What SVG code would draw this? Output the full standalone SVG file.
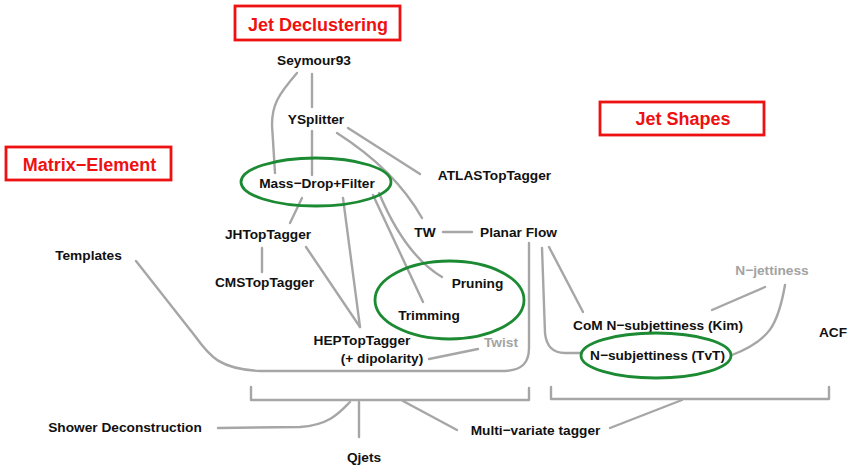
<svg xmlns="http://www.w3.org/2000/svg" width="849" height="465" viewBox="0 0 849 465">
<style>
text{font-family:"Liberation Sans",Arial,sans-serif;font-weight:bold;font-size:13.7px;fill:#111;text-anchor:middle}
.title{font-size:18px;fill:#ee1111}
.gray{fill:#a3a3a3}
.box{fill:none;stroke:#ee1111;stroke-width:2.8}
.ell{fill:none;stroke:#1b8a32;stroke-width:2.8}
#connectors path{fill:none;stroke:#a6a6a6;stroke-width:2.4;stroke-linecap:round;stroke-linejoin:round}
</style>
<rect width="849" height="465" fill="#fff"/>
<g id="connectors">
<path d="M297,73 C278,95 272,105 272,125 L275,173"/>
<path d="M312,74 L312,107"/>
<path d="M312,131 L312,175"/>
<path d="M348,128 L420,174"/>
<path d="M337,133 Q395,170 422,218"/>
<path d="M302,198 L290,223"/>
<path d="M262,248 L262,272"/>
<path d="M306,247 L360,327"/>
<path d="M343,198 L360,327"/>
<path d="M373,195 L423,302"/>
<path d="M379,193 Q405,255 442,277"/>
<path d="M443,232 L472,232"/>
<path d="M429,359 L478,349"/>
<path d="M136,261 L195,336 C210,357 220,369 260,371 L505,371 C522,370 529,363 529,348 L529,243"/>
<path d="M549,247 L583,312"/>
<path d="M542,248 L545,333 Q547,353 565,353 L582,353"/>
<path d="M765,287 L712,310"/>
<path d="M785,285 C778,325 770,340 732,355"/>
<path d="M251,387 L251,400 L529,400 L529,388"/>
<path d="M551,387 L551,399 L829,399 L829,387"/>
<path d="M218,428 L300,427 C330,425 340,412 350,402"/>
<path d="M359,402 L359,437"/>
<path d="M403,401 L457,430"/>
<path d="M610,428 L682,400"/>
</g>
<g id="jet-declustering"><rect class="box" x="235" y="6" width="165" height="34"/><text class="title" x="318" y="31">Jet Declustering</text></g>
<g id="matrix-element"><rect class="box" x="6" y="147" width="165" height="33"/><text class="title" x="89.5" y="171">Matrix−Element</text></g>
<g id="jet-shapes"><rect class="box" x="600" y="102" width="164" height="33"/><text class="title" x="683" y="125">Jet Shapes</text></g>
<g id="seymour93"><text x="314" y="65">Seymour93</text></g>
<g id="ysplitter"><text x="316" y="124">YSplitter</text></g>
<g id="mass-drop"><ellipse class="ell" cx="316" cy="182" rx="75" ry="24"/><text x="317" y="188">Mass−Drop+Filter</text></g>
<g id="atlas"><text x="494.5" y="180">ATLASTopTagger</text></g>
<g id="jhtoptagger"><text x="268" y="239">JHTopTagger</text></g>
<g id="cmstoptagger"><text x="264.5" y="287">CMSTopTagger</text></g>
<g id="tw"><text x="425" y="237">TW</text></g>
<g id="planar-flow"><text x="518.5" y="237">Planar Flow</text></g>
<g id="templates"><text x="88.5" y="260">Templates</text></g>
<g id="pruning-trimming"><ellipse class="ell" cx="449.5" cy="300" rx="74.5" ry="39"/><text x="477.5" y="288">Pruning</text><text x="429" y="320">Trimming</text></g>
<g id="heptoptagger"><text x="362" y="345">HEPTopTagger</text><text x="382" y="363">(+ dipolarity)</text></g>
<g id="twist"><text class="gray" x="501" y="347">Twist</text></g>
<g id="n-jettiness"><text class="gray" x="772" y="275">N−jettiness</text></g>
<g id="com-nsub"><text x="658" y="330">CoM N−subjettiness (Kim)</text></g>
<g id="nsub-tvt"><ellipse class="ell" cx="656" cy="355.5" rx="75" ry="22.5"/><text x="657.5" y="360">N−subjettiness (TvT)</text></g>
<g id="acf"><text x="833" y="337">ACF</text></g>
<g id="shower"><text x="125" y="432">Shower Deconstruction</text></g>
<g id="qjets"><text x="364" y="462">Qjets</text></g>
<g id="multivariate"><text x="535.5" y="435">Multi−variate tagger</text></g>
</svg>
